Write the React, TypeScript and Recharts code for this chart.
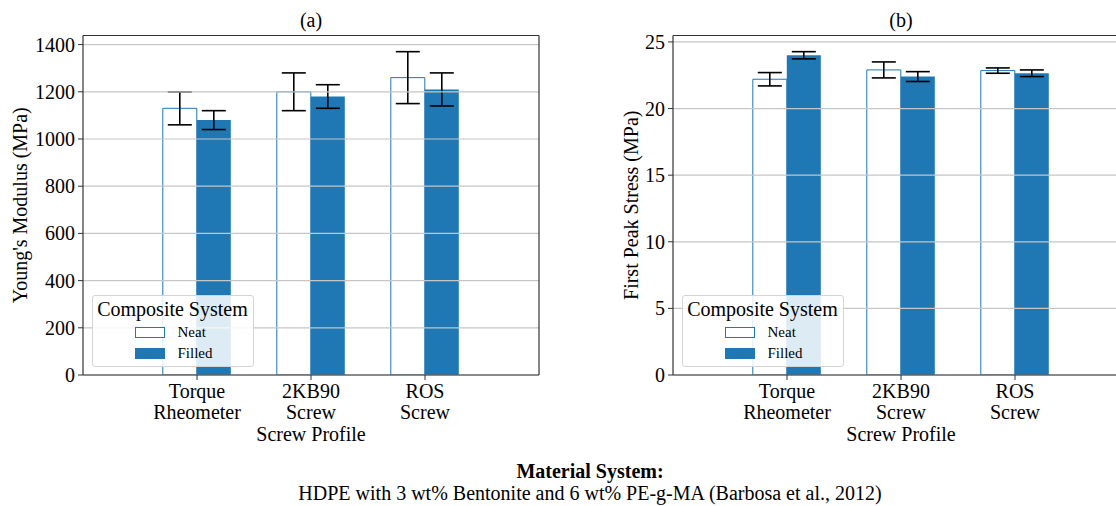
import { BarChart, Bar, XAxis, YAxis, ErrorBar, ReferenceLine } from 'recharts';

const FONT = '"Liberation Serif", "Times New Roman", Times, serif';
const FS = 20;
const BLUE = '#1f77b4';
const SPINE = '#333333';
const GRID = '#c6c6c6';

// screw profiles (two-line tick labels)
const profiles = ['Torque\nRheometer', '2KB90\nScrew', 'ROS\nScrew'];

// (a) Young's modulus, MPa
const modulusNeat = [1130, 1200, 1260];
const modulusNeatErr = [70, 80, 110];
const modulusFilled = [1080, 1180, 1210];
const modulusFilledErr = [40, 50, 70];
const modulusTicks = [0, 200, 400, 600, 800, 1000, 1200, 1400];

// (b) first peak stress, MPa
const stressNeat = [22.2, 22.9, 22.85];
const stressNeatErr = [0.5, 0.6, 0.2];
const stressFilled = [24.0, 22.4, 22.65];
const stressFilledErr = [0.27, 0.37, 0.25];
const stressTicks = [0, 5, 10, 15, 20, 25];

const buildRows = (neat: number[], neatErr: number[], filled: number[], filledErr: number[]) =>
  profiles.map((name, i) => ({
    name,
    neat: neat[i],
    neatErr: neatErr[i],
    filled: filled[i],
    filledErr: filledErr[i],
  }));

// matplotlib-style autoscale: top of highest error bar plus 5%
const topOf = (vals: number[], errs: number[]) =>
  Math.max(...vals.map((v, i) => v + errs[i])) * 1.05;

const CHART_W = 560;
const CHART_H = 506;
const Y_AXIS_W = 83;
const X_AXIS_H = 80;
// outer frame axes take 1px each (top / right)
const MARGIN = { top: 34.5, right: 20, bottom: 131 - X_AXIS_H, left: 0 };

const ProfileTick = ({ x, y, payload }: any) => {
  const lines = String(payload.value).split('\n');
  return (
    <text x={x} y={y} textAnchor="middle" fontFamily={FONT} fontSize={FS} fill="#000">
      {lines.map((line, i) => (
        <tspan key={i} x={x} dy={i === 0 ? 16 : 21}>
          {line}
        </tspan>
      ))}
    </text>
  );
};

const YTitle = ({ viewBox, value, gap }: any) => {
  const vb = viewBox || { x: 0, y: 35.5, width: Y_AXIS_W, height: 339.5 };
  const x = vb.x + vb.width - gap;
  const y = vb.y + vb.height / 2;
  return (
    <text
      x={x}
      y={y}
      transform={`rotate(-90 ${x} ${y})`}
      textAnchor="middle"
      fontFamily={FONT}
      fontSize={FS}
      fill="#000"
    >
      {value}
    </text>
  );
};

const Legend = ({ left }: { left: number }) => (
  <div
    style={{
      position: 'absolute',
      left,
      top: 295,
      width: 162,
      height: 72,
      boxSizing: 'border-box',
      border: '1px solid #d4d4d4',
      borderRadius: 3,
      background: 'rgba(255,255,255,0.85)',
      fontFamily: FONT,
      color: '#000',
    }}
  >
    <div style={{ position: 'absolute', left: 0, right: 0, top: 2, textAlign: 'center', fontSize: FS, lineHeight: '22px' }}>
      Composite System
    </div>
    <div style={{ position: 'absolute', left: 42, top: 31, width: 30, height: 11, boxSizing: 'border-box', border: `1.5px solid ${BLUE}`, background: '#fff' }} />
    <div style={{ position: 'absolute', left: 85, top: 28, fontSize: 15, lineHeight: '17px' }}>Neat</div>
    <div style={{ position: 'absolute', left: 42, top: 52, width: 30, height: 11, background: BLUE }} />
    <div style={{ position: 'absolute', left: 85, top: 49, fontSize: 15, lineHeight: '17px' }}>Filled</div>
  </div>
);

interface PanelProps {
  left: number;
  title: string;
  yLabel: string;
  labelGap: number;
  data: ReturnType<typeof buildRows>;
  yMax: number;
  ticks: number[];
}

const Panel = ({ left, title, yLabel, labelGap, data, yMax, ticks }: PanelProps) => {
  const plotLeft = left + Y_AXIS_W;
  const plotRight = left + CHART_W - MARGIN.right - 1;
  const plotCenter = (plotLeft + plotRight) / 2;
  return (
    <>
      <div style={{ position: 'absolute', left, top: 0 }}>
        <BarChart
          width={CHART_W}
          height={CHART_H}
          data={data}
          margin={MARGIN}
          barCategoryGap="20%"
          barGap={0}
        >
          <XAxis
            dataKey="name"
            height={X_AXIS_H}
            padding={{ left: 57, right: 57 }}
            interval={0}
            tick={<ProfileTick />}
            tickSize={5}
            tickMargin={2}
            tickLine={{ stroke: SPINE }}
            axisLine={{ stroke: SPINE, strokeWidth: 1.2 }}
            label={{ value: 'Screw Profile', position: 'insideBottom', offset: 14, fontFamily: FONT, fontSize: FS, fill: '#000' }}
          />
          <XAxis xAxisId="top" dataKey="name" orientation="top" height={1} tick={false} tickLine={false} axisLine={{ stroke: SPINE, strokeWidth: 1.2 }} />
          <YAxis
            width={Y_AXIS_W}
            domain={[0, yMax]}
            ticks={ticks}
            allowDataOverflow
            tickSize={5}
            tickMargin={3}
            tickLine={{ stroke: SPINE }}
            axisLine={{ stroke: SPINE, strokeWidth: 1.2 }}
            tick={{ fontFamily: FONT, fontSize: FS, fill: '#000' }}
            label={{ value: yLabel, content: (p: any) => <YTitle {...p} value={yLabel} gap={labelGap} /> }}
          />
          <YAxis yAxisId="right" orientation="right" width={1} domain={[0, yMax]} tick={false} tickLine={false} axisLine={{ stroke: SPINE, strokeWidth: 1.2 }} />
          <Bar dataKey="neat" fill="#ffffff" stroke={BLUE} strokeWidth={1} isAnimationActive={false}>
            <ErrorBar dataKey="neatErr" width={12} strokeWidth={1.6} stroke="#000" direction="y" />
          </Bar>
          <Bar dataKey="filled" fill={BLUE} isAnimationActive={false}>
            <ErrorBar dataKey="filledErr" width={12} strokeWidth={1.6} stroke="#000" direction="y" />
          </Bar>
          {ticks.map((t) => (
            <ReferenceLine key={t} y={t} stroke={GRID} strokeWidth={1.2} />
          ))}
        </BarChart>
      </div>
      <div
        style={{
          position: 'absolute',
          left: plotCenter - 50,
          width: 100,
          top: 10,
          textAlign: 'center',
          fontFamily: FONT,
          fontSize: FS,
          lineHeight: 1,
        }}
      >
        {title}
      </div>
      <Legend left={plotLeft + 8.5} />
    </>
  );
};

export default function App() {
  const modulusRows = buildRows(modulusNeat, modulusNeatErr, modulusFilled, modulusFilledErr);
  const stressRows = buildRows(stressNeat, stressNeatErr, stressFilled, stressFilledErr);
  return (
    <div
      style={{
        position: 'absolute',
        left: 0,
        top: 0,
        width: 1116,
        height: 506,
        overflow: 'hidden',
        background: '#fff',
      }}
    >
      <Panel
        left={0}
        title="(a)"
        yLabel="Young's Modulus (MPa)"
        labelGap={56}
        data={modulusRows}
        yMax={topOf(modulusNeat.concat(modulusFilled), modulusNeatErr.concat(modulusFilledErr))}
        ticks={modulusTicks}
      />
      <Panel
        left={590}
        title="(b)"
        yLabel="First Peak Stress (MPa)"
        labelGap={35}
        data={stressRows}
        yMax={topOf(stressNeat.concat(stressFilled), stressNeatErr.concat(stressFilledErr))}
        ticks={stressTicks}
      />
      <div
        style={{
          position: 'absolute',
          left: 0,
          width: 1180,
          top: 460,
          textAlign: 'center',
          fontFamily: FONT,
          fontSize: FS,
          lineHeight: '22px',
          color: '#000',
        }}
      >
        <div style={{ fontWeight: 'bold' }}>Material System:</div>
        <div>HDPE with 3 wt% Bentonite and 6 wt% PE-g-MA (Barbosa et al., 2012)</div>
      </div>
    </div>
  );
}
